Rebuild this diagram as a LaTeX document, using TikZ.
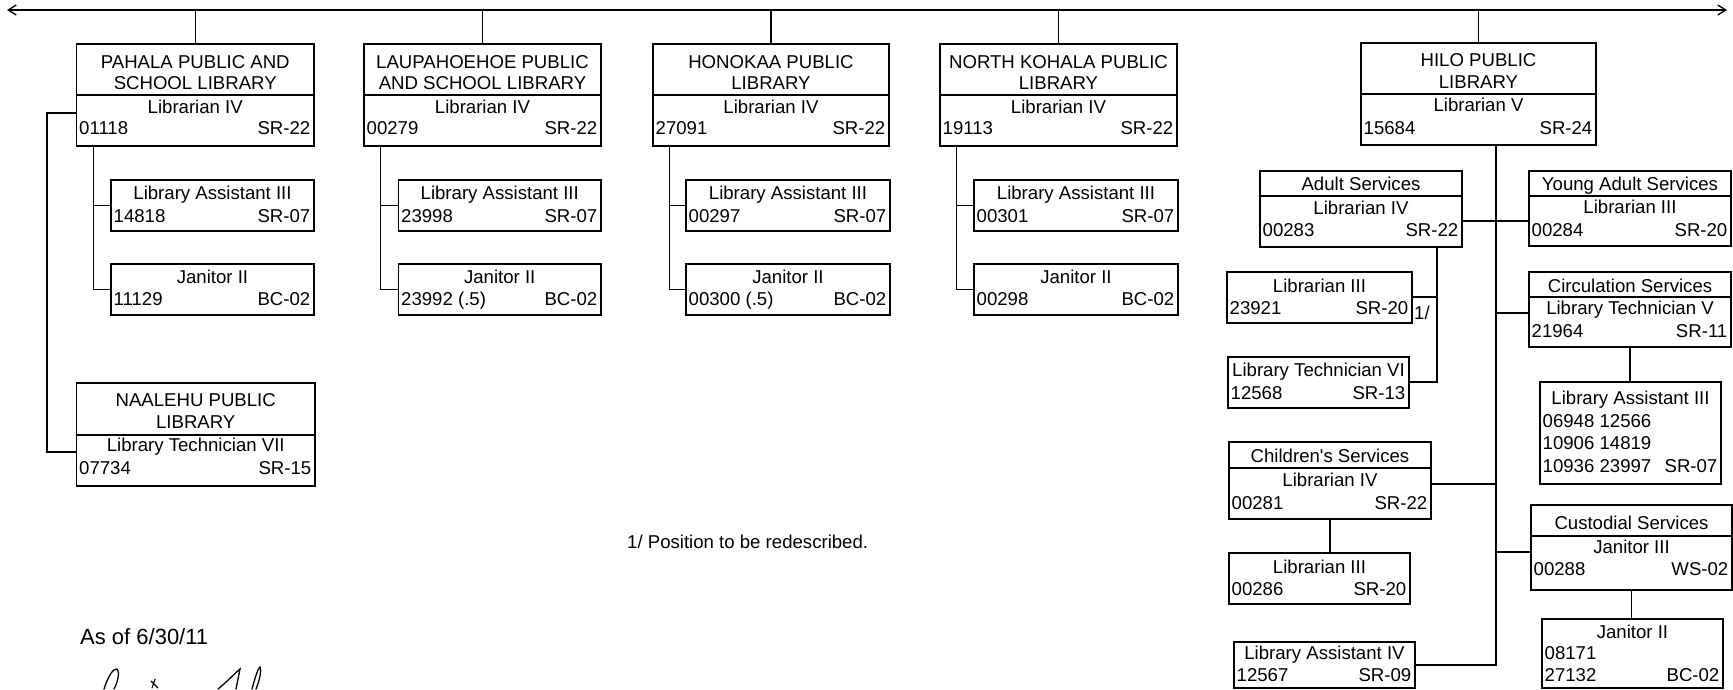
\documentclass[tikz,border=0pt]{standalone}
\usepackage{fontspec}
\setmainfont{Liberation Sans}
\usetikzlibrary{arrows.meta,fit}
\newcommand{\ctxt}[4]{\node[txt,anchor=base] (#1) at (#2,#3+6.6) {#4};}
\newcommand{\ltxt}[4]{\node[txt,anchor=base west] (#1) at (#2+2.5,#3+6.6) {#4};}
\newcommand{\rtxt}[4]{\node[txt,anchor=base east] (#1) at (#2-3.5,#3+6.6) {#4};}
\begin{document}
\begin{tikzpicture}[x=1pt,y=-1pt,
  ob/.style={draw, line width=1.4pt, inner sep=0pt},
  ln/.style={line width=1.3pt},
  txt/.style={inner sep=0pt, font=\fontsize{18.6}{22}\selectfont}]
\useasboundingbox (0,0) rectangle (1733,689);

% top line
\coordinate (tl) at (7,10);
\coordinate (tr) at (1727,10);
\draw[ln, {Straight Barb[length=8pt,width=10pt]}-{Straight Barb[length=8pt,width=10pt]}] (tl) -- (tr);

% ---------- PAHALA ----------
\node[ob, fit={(76.5,44) (314,146)}] (pahala) {};
\draw[ln] (76.5,95) -- (314,95);
\ctxt{pa1}{195.25}{62}{PAHALA PUBLIC AND}
\ctxt{pa2}{195.25}{83}{SCHOOL LIBRARY}
\ctxt{pa3}{195.25}{107}{Librarian IV}
\ltxt{pa4}{76.5}{128}{01118}
\rtxt{pa5}{314}{128}{SR-22}

\node[ob, fit={(111,180) (314,231)}] (pla) {};
\ctxt{pla1}{212.5}{193}{Library Assistant III}
\ltxt{pla2}{111}{216}{14818}
\rtxt{pla3}{314}{216}{SR-07}
\node[ob, fit={(111,264) (314,315)}] (pjan) {};
\ctxt{pjan1}{212.5}{277}{Janitor II}
\ltxt{pjan2}{111}{299}{11129}
\rtxt{pjan3}{314}{299}{BC-02}

% ---------- LAUPAHOEHOE ----------
\node[ob, fit={(364,44) (601,146)}] (laup) {};
\draw[ln] (364,95) -- (601,95);
\ctxt{la1}{482.5}{62}{LAUPAHOEHOE PUBLIC}
\ctxt{la2}{482.5}{83}{AND SCHOOL LIBRARY}
\ctxt{la3t}{482.5}{107}{Librarian IV}
\ltxt{la4t}{364}{128}{00279}
\rtxt{la5t}{601}{128}{SR-22}

\node[ob, fit={(398.5,180) (601,231)}] (lla) {};
\ctxt{lla1}{499.75}{193}{Library Assistant III}
\ltxt{lla2}{398.5}{216}{23998}
\rtxt{lla3}{601}{216}{SR-07}
\node[ob, fit={(398.5,264) (601,315)}] (ljan) {};
\ctxt{ljan1}{499.75}{277}{Janitor II}
\ltxt{ljan2}{398.5}{299}{23992 (.5)}
\rtxt{ljan3}{601}{299}{BC-02}

% ---------- HONOKAA ----------
\node[ob, fit={(653,44) (889,146)}] (hono) {};
\draw[ln] (653,95) -- (889,95);
\ctxt{ho1}{771}{62}{HONOKAA PUBLIC}
\ctxt{ho2}{771}{83}{LIBRARY}
\ctxt{ho3}{771}{107}{Librarian IV}
\ltxt{ho4}{653}{128}{27091}
\rtxt{ho5}{889}{128}{SR-22}

\node[ob, fit={(686,180) (890,231)}] (hla) {};
\ctxt{hla1}{788}{193}{Library Assistant III}
\ltxt{hla2}{686}{216}{00297}
\rtxt{hla3}{890}{216}{SR-07}
\node[ob, fit={(686,264) (890,315)}] (hjan) {};
\ctxt{hjan1}{788}{277}{Janitor II}
\ltxt{hjan2}{686}{299}{00300 (.5)}
\rtxt{hjan3}{890}{299}{BC-02}

% ---------- NORTH KOHALA ----------
\node[ob, fit={(940,44) (1177,146)}] (nk) {};
\draw[ln] (940,95) -- (1177,95);
\ctxt{nk1}{1058.5}{62}{NORTH KOHALA PUBLIC}
\ctxt{nk2}{1058.5}{83}{LIBRARY}
\ctxt{nk3}{1058.5}{107}{Librarian IV}
\ltxt{nk4}{940}{128}{19113}
\rtxt{nk5}{1177}{128}{SR-22}

\node[ob, fit={(974,180) (1178,231)}] (nla) {};
\ctxt{nla1}{1076}{193}{Library Assistant III}
\ltxt{nla2}{974}{216}{00301}
\rtxt{nla3}{1178}{216}{SR-07}
\node[ob, fit={(974,264) (1178,315)}] (njan) {};
\ctxt{njan1}{1076}{277}{Janitor II}
\ltxt{njan2}{974}{299}{00298}
\rtxt{njan3}{1178}{299}{BC-02}

% ---------- NAALEHU ----------
\node[ob, fit={(76.5,383) (315,486)}] (naal) {};
\draw[ln] (76.5,435) -- (315,435);
\ctxt{na1}{195.75}{400}{NAALEHU PUBLIC}
\ctxt{na2}{195.75}{422}{LIBRARY}
\ctxt{na3}{195.75}{445}{Library Technician VII}
\ltxt{na4}{76.5}{468}{07734}
\rtxt{na5}{315}{468}{SR-15}

% ---------- HILO ----------
\node[ob, fit={(1361,43) (1596,145)}] (hilo) {};
\draw[ln] (1361,94) -- (1596,94);
\ctxt{hi1}{1478.5}{60}{HILO PUBLIC}
\ctxt{hi2}{1478.5}{82}{LIBRARY}
\ctxt{hi3}{1478.5}{105}{Librarian V}
\ltxt{hi4}{1361}{128}{15684}
\rtxt{hi5}{1596}{128}{SR-24}

\node[ob, fit={(1260,171) (1462,247)}] (adult) {};
\draw[ln] (1260,196) -- (1462,196);
\ctxt{ad1}{1361}{184}{Adult Services}
\ctxt{ad2}{1361}{208}{Librarian IV}
\ltxt{ad3}{1260}{230}{00283}
\rtxt{ad4}{1462}{230}{SR-22}

\node[ob, fit={(1529,171) (1731,246)}] (young) {};
\draw[ln] (1529,196) -- (1731,196);
\ctxt{yo1}{1630}{184}{Young Adult Services}
\ctxt{yo2}{1630}{207}{Librarian III}
\ltxt{yo3}{1529}{230}{00284}
\rtxt{yo4}{1731}{230}{SR-20}

\node[ob, fit={(1227,272) (1412,323)}] (libA) {};
\ctxt{lA1}{1319.5}{286}{Librarian III}
\ltxt{lA2}{1227}{308}{23921}
\rtxt{lA3}{1412}{308}{SR-20}
\node[txt, anchor=base west] (fn1) at (1414,319.6) {1/};

\node[ob, fit={(1228,357) (1409,408)}] (tech6) {};
\ctxt{t61}{1318.5}{370}{Library Technician VI}
\ltxt{t62}{1228}{393}{12568}
\rtxt{t63}{1409}{393}{SR-13}

\node[ob, fit={(1529,272) (1731,347)}] (circ) {};
\draw[ln] (1529,297) -- (1731,297);
\ctxt{ci1}{1630}{286}{Circulation Services}
\ctxt{ci2}{1630}{308}{Library Technician V}
\ltxt{ci3}{1529}{331}{21964}
\rtxt{ci4}{1731}{331}{SR-11}

\node[ob, fit={(1540,382) (1721,484)}] (la3) {};
\ctxt{l31}{1630.5}{398}{Library Assistant III}
\ltxt{l32}{1540}{421}{06948 12566}
\ltxt{l33}{1540}{443}{10906 14819}
\ltxt{l34}{1540}{466}{10936 23997}
\rtxt{l35}{1721}{466}{SR-07}

\node[ob, fit={(1229,442) (1431,519)}] (child) {};
\draw[ln] (1229,468) -- (1431,468);
\ctxt{ch1}{1330}{456}{Children\textquotesingle s Services}
\ctxt{ch2}{1330}{480}{Librarian IV}
\ltxt{ch3}{1229}{503}{00281}
\rtxt{ch4}{1431}{503}{SR-22}

\node[ob, fit={(1229,553) (1410,604)}] (libB) {};
\ctxt{lB1}{1319.5}{567}{Librarian III}
\ltxt{lB2}{1229}{589}{00286}
\rtxt{lB3}{1410}{589}{SR-20}

\node[ob, fit={(1531,505) (1732,590)}] (cust) {};
\draw[ln] (1531,536) -- (1732,536);
\ctxt{cu1}{1631.5}{523}{Custodial Services}
\ctxt{cu2}{1631.5}{547}{Janitor III}
\ltxt{cu3}{1531}{569}{00288}
\rtxt{cu4}{1732}{569}{WS-02}

\node[ob, fit={(1542,619) (1723,688)}] (jan2) {};
\ctxt{j21}{1632.5}{632}{Janitor II}
\ltxt{j22}{1542}{653}{08171}
\ltxt{j23}{1542}{675}{27132}
\rtxt{j24}{1723}{675}{BC-02}

\node[ob, fit={(1234,642) (1415,688)}] (la4) {};
\ctxt{l41}{1324.5}{653}{Library Assistant IV}
\ltxt{l42}{1234}{675}{12567}
\rtxt{l43}{1415}{675}{SR-09}

% ---------- notes ----------
\node[txt, anchor=base west] (note) at (627,548.6) {1/ Position to be redescribed.};
\node[txt, anchor=base west, font=\fontsize{22}{26}\selectfont] (asof) at (80,644.5) {As of 6/30/11};

% signature (partial)
\draw[line width=1.3pt, line cap=round]
  (104,689) .. controls (108,677) and (113,668) .. (117,669)
  .. controls (120,671) and (118,682) .. (114,689);
\draw[line width=1.1pt, line cap=round] (151,681) -- (158,688) (152,688) -- (155,679);
\draw[line width=1.3pt, line cap=round]
  (218,689) .. controls (228,681) and (236,672) .. (240,669) -- (236,689);
\draw[line width=1.3pt, line cap=round]
  (252,689) .. controls (255,678) and (258,668) .. (260,667)
  .. controls (262,670) and (259,682) .. (256,689);

% ---------- connectors ----------
\draw[ln] (pahala.north) -- (pahala.north |- tl);
\draw[ln] (laup.north) -- (laup.north |- tl);
\draw[ln] (hono.north) -- (hono.north |- tl);
\draw[ln] (nk.north) -- (nk.north |- tl);
\draw[ln] (hilo.north) -- (hilo.north |- tl);

\draw[ln] ([xshift=17.5pt]pahala.south west) |- (pla.west);
\draw[ln] ([xshift=17.5pt]pahala.south west) |- (pjan.west);
\draw[ln] ([xshift=17.5pt]laup.south west) |- (lla.west);
\draw[ln] ([xshift=17.5pt]laup.south west) |- (ljan.west);
\draw[ln] ([xshift=17pt]hono.south west) |- (hla.west);
\draw[ln] ([xshift=17pt]hono.south west) |- (hjan.west);
\draw[ln] ([xshift=17pt]nk.south west) |- (nla.west);
\draw[ln] ([xshift=17pt]nk.south west) |- (njan.west);

\coordinate (nb) at (47,113);
\draw[ln] (pahala.west |- nb) -- (nb) |- ([yshift=-17.5pt]naal.west);

% Hilo trunk
\coordinate (jA) at (1496,221);
\coordinate (jC) at (1496,313);
\coordinate (jCh) at (1496,484);
\coordinate (jCu) at (1496,552);
\coordinate (jL) at (1496,665);
\draw[ln] (hilo.south -| jL) -- (jL) -- (la4.east |- jL);
\draw[ln] (adult.east |- jA) -- (young.west |- jA);
\draw[ln] (jC) -- (circ.west |- jC);
\draw[ln] (child.east |- jCh) -- (jCh);
\draw[ln] (jCu) -- (cust.west |- jCu);

\coordinate (aB) at (1437,297);
\coordinate (aV) at (1437,382);
\draw[ln] (adult.south -| aV) -- (aV) -- (tech6.east |- aV);
\draw[ln] (aB) -- (libA.east |- aB);

\draw[ln] (circ.south) -- (circ.south |- la3.north);
\draw[ln] (child.south) -- (child.south |- libB.north);
\draw[ln] (cust.south) -- (cust.south |- jan2.north);
\end{tikzpicture}
\end{document}
